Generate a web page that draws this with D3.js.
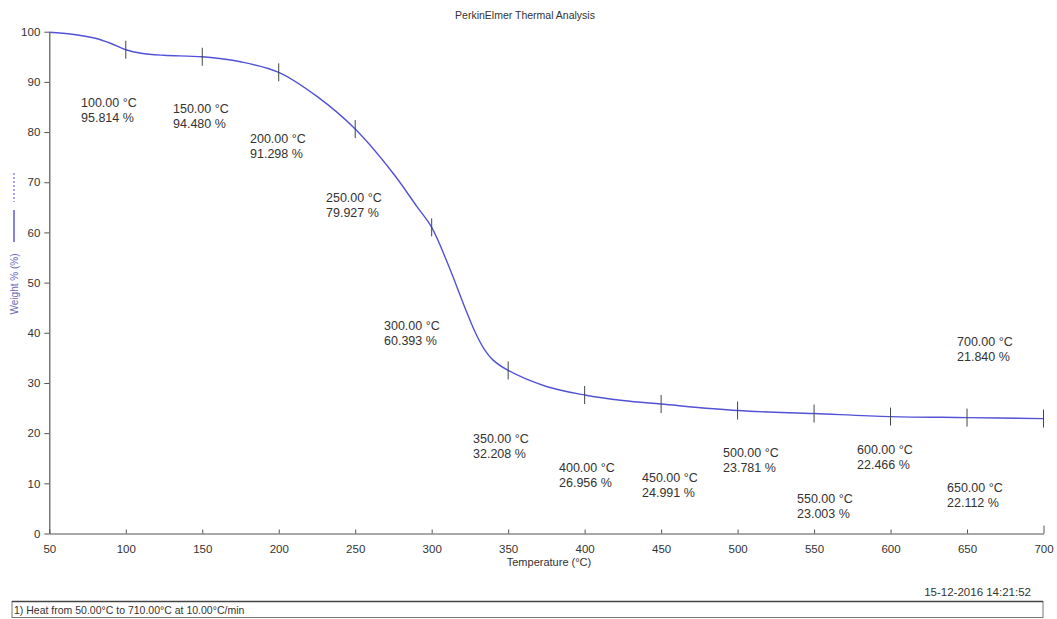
<!DOCTYPE html>
<html>
<head>
<meta charset="utf-8">
<script src="https://cdn.jsdelivr.net/npm/d3@7"></script>
<style>
  body { margin: 0; background: #fff; }
  svg { display: block; font-family: "Liberation Sans", Arial, sans-serif; }
</style>
</head>
<body>
<div id="chart"></div>
<script>
// curve (temperature in °C, weight in %)
var temps   = [50, 65, 80, 90, 100, 110, 125, 150, 175, 200, 225, 250, 275, 290, 300, 311, 322, 328, 334, 340, 350, 375, 400, 425, 450, 500, 550, 600, 650, 700];
var weights = [99.9, 99.5, 98.7, 97.7, 96.4, 95.7, 95.3, 95.0, 94.0, 91.9, 87.1, 80.6, 71.7, 65.3, 61.0, 53.4, 44.8, 40.4, 36.9, 34.6, 32.5, 29.3, 27.6, 26.5, 25.8, 24.5, 23.9, 23.3, 23.1, 22.9];

// annotated points
var markTemps   = [100, 150, 200, 250, 300, 350, 400, 450, 500, 550, 600, 650, 700];
var markWeights = [95.814, 94.480, 91.298, 79.927, 60.393, 32.208, 26.956, 24.991, 23.781, 23.003, 22.466, 22.112, 21.840];

var xTicks = [50, 100, 150, 200, 250, 300, 350, 400, 450, 500, 550, 600, 650, 700];
var yTicks = [0, 10, 20, 30, 40, 50, 60, 70, 80, 90, 100];

// where each annotation sits on the page (left x, first line middle y)
var labelPos = [[81, 102], [173, 108], [250, 138], [326, 197], [384, 325], [473, 438], [559, 467],
                [642, 477], [723, 452], [797, 498], [857, 449], [947, 487], [957, 341]];

var W = 1057, H = 619;
var ink = "#333";
var curveCol = "#5252d6";

var svg = d3.select("#chart").append("svg")
  .attr("width", W)
  .attr("height", H);

svg.append("rect")
  .attr("width", W)
  .attr("height", H)
  .attr("fill", "#fff");

var x = d3.scaleLinear().domain([50, 700]).range([49.3, 1043.5]);
var y = d3.scaleLinear().domain([0, 100]).range([533.5, 31.7]);

// title
svg.append("text")
  .attr("x", 525).attr("y", 19)
  .attr("text-anchor", "middle")
  .attr("font-size", 10.5)
  .attr("fill", ink)
  .text("PerkinElmer Thermal Analysis");

// axes
var xAxis = svg.append("g")
  .attr("transform", "translate(0," + y(0) + ")")
  .call(d3.axisBottom(x).tickValues(xTicks).tickSize(-4).tickSizeOuter(0).tickPadding(11));

var yAxis = svg.append("g")
  .attr("transform", "translate(" + x(50) + ",0)")
  .call(d3.axisLeft(y).tickValues(yTicks).tickSize(5).tickSizeOuter(0).tickPadding(4));

[xAxis, yAxis].forEach(function(ax) {
  ax.select(".domain").attr("stroke", "#555").attr("stroke-width", 1.2);
  ax.selectAll(".tick line").attr("stroke", "#555");
  ax.selectAll(".tick text")
    .attr("fill", ink)
    .attr("font-size", 11.5)
    .attr("font-family", "Liberation Sans, Arial, sans-serif");
});

// taller end tick at 700
xAxis.selectAll(".tick").filter(function(d) { return d === 700; })
  .select("line").attr("y2", -8);

// axis titles
svg.append("text")
  .attr("x", 549).attr("y", 566)
  .attr("text-anchor", "middle")
  .attr("font-size", 11)
  .attr("fill", ink)
  .text("Temperature (°C)");

svg.append("text")
  .attr("transform", "translate(18,284) rotate(-90)")
  .attr("text-anchor", "middle")
  .attr("font-size", 10)
  .attr("fill", "#6a6ab8")
  .text("Weight % (%)");

// legend swatch next to the y title
svg.append("line")
  .attr("x1", 14).attr("x2", 14)
  .attr("y1", 173).attr("y2", 202)
  .attr("stroke", "#7070d8")
  .attr("stroke-width", 1.2)
  .attr("stroke-dasharray", "2,2");

svg.append("line")
  .attr("x1", 14).attr("x2", 14)
  .attr("y1", 210).attr("y2", 242)
  .attr("stroke", "#5a5ad8")
  .attr("stroke-width", 1.5);

// the TGA curve
var pts = temps.map(function(t, i) { return [t, weights[i]]; });

var line = d3.line()
  .x(function(d) { return x(d[0]); })
  .y(function(d) { return y(d[1]); })
  .curve(d3.curveCatmullRom.alpha(0.5));

svg.append("path")
  .datum(pts)
  .attr("fill", "none")
  .attr("stroke", curveCol)
  .attr("stroke-width", 1.4)
  .attr("d", line);

// markers on the curve
var markers = markTemps.map(function(t) {
  return pts.find(function(p) { return p[0] === t; });
});

svg.append("g").selectAll("line")
  .data(markers)
  .join("line")
  .attr("x1", function(d) { return x(d[0]); })
  .attr("x2", function(d) { return x(d[0]); })
  .attr("y1", function(d) { return y(d[1]) - 9; })
  .attr("y2", function(d) { return y(d[1]) + 9; })
  .attr("stroke", "#3e4848")
  .attr("stroke-width", 1);

// annotations
var ann = svg.append("g").selectAll("text")
  .data(markTemps)
  .join("text")
  .attr("font-size", 12.5)
  .attr("fill", ink)
  .attr("x", function(d, i) { return labelPos[i][0]; })
  .attr("y", function(d, i) { return labelPos[i][1] + 4.5; });

ann.append("tspan")
  .text(function(d) { return d.toFixed(2) + " °C"; });

ann.append("tspan")
  .attr("x", function(d, i) { return labelPos[i][0]; })
  .attr("dy", 15.5)
  .text(function(d, i) { return markWeights[i].toFixed(3) + " %"; });

// footer
svg.append("text")
  .attr("x", 1031).attr("y", 596)
  .attr("text-anchor", "end")
  .attr("font-size", 11.5)
  .attr("fill", ink)
  .text("15-12-2016 14:21:52");

svg.append("rect")
  .attr("x", 12).attr("y", 601.5)
  .attr("width", 1031).attr("height", 16)
  .attr("fill", "none")
  .attr("stroke", "#777")
  .attr("stroke-width", 1);

svg.append("line")
  .attr("x1", 12).attr("x2", 1043)
  .attr("y1", 601.5).attr("y2", 601.5)
  .attr("stroke", "#444")
  .attr("stroke-width", 1.3);

svg.append("text")
  .attr("x", 14).attr("y", 614)
  .attr("font-size", 10.5)
  .attr("fill", ink)
  .text("1)  Heat from 50.00°C to 710.00°C at 10.00°C/min");
</script>
</body>
</html>
